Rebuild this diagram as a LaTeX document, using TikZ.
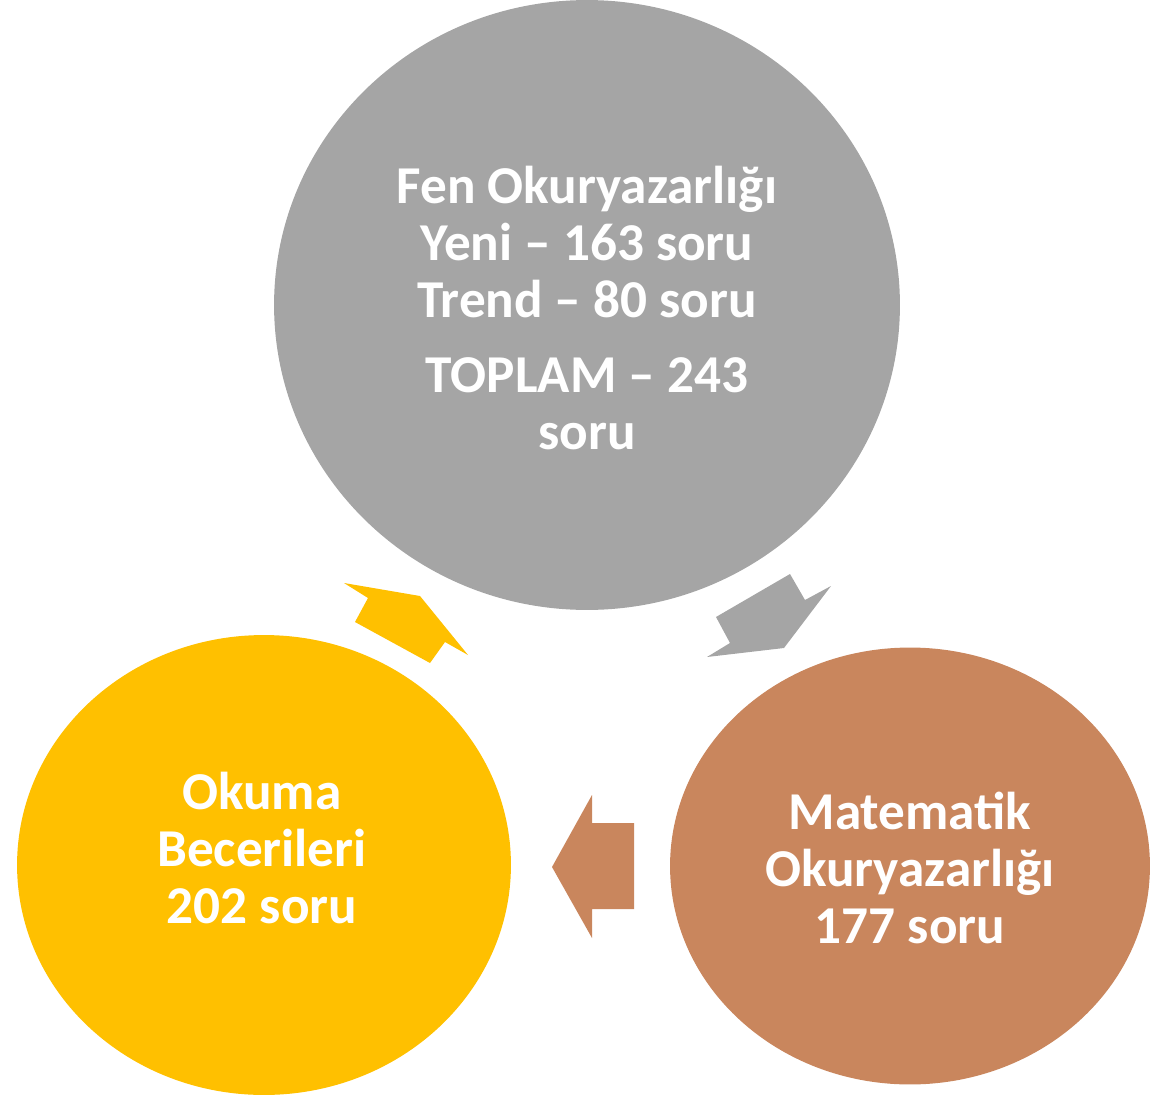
\documentclass[tikz,border=0pt]{standalone}
\usepackage{fontspec}
\setmainfont{Carlito}
\usepackage{tikz}
\usetikzlibrary{shapes.geometric}

\definecolor{fengray}{HTML}{A5A5A5}
\definecolor{okugold}{HTML}{FFC000}
\definecolor{matbrown}{HTML}{C9865D}

\begin{document}
\begin{tikzpicture}[
    x=0.02cm, y=-0.02cm,
    circ/.style={ellipse, inner sep=0pt},
    lbl/.style={text=white, align=center, font=\fontsize{30.3}{32.4}\selectfont\bfseries},
    blockarrow/.style={draw=none}
]
\useasboundingbox (0,0) rectangle (1161,1096);

% Circles
\node[circ, fill=fengray, minimum width=12.52cm, minimum height=12.2cm] (fen) at (587,305) {};
\node[circ, fill=okugold, minimum width=9.88cm, minimum height=9.2cm] (okuma) at (264,865) {};
\node[circ, fill=matbrown, minimum width=9.6cm, minimum height=8.74cm] (mat) at (910,866) {};

% Texts
\node[lbl] (fentxt) at (587,308) {Fen Okuryazarlığı\\Yeni -- 163 soru\\Trend -- 80 soru\\[10.8pt]TOPLAM -- 243\\soru};
\node[lbl] (okumatxt) at (262,848) {Okuma\\Becerileri\\ 202 soru};
\node[lbl] (mattxt) at (910,868) {Matematik\\Okuryazarlığı\\177 soru};

% Block arrows
\fill[fengray] (790,574) -- (805,600) -- (831,586) -- (784,648) -- (707,657) -- (730,643) -- (716,617) -- cycle;
\fill[matbrown] (592,795) -- (592,823) -- (634,823) -- (634,909) -- (592,909) -- (592,938) -- (552,867) -- cycle;
\fill[okugold] (344,583) -- (420,596) -- (468,655) -- (445,642) -- (430,663) -- (355,622) -- (368,598) -- cycle;

\end{tikzpicture}
\end{document}
